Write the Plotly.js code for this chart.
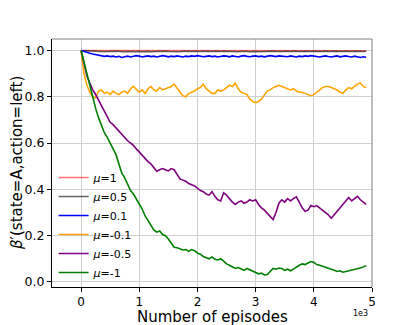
<!DOCTYPE html>
<html>
<head>
<meta charset="utf-8">
<script src="https://cdn.plot.ly/plotly-3.0.1.min.js"></script>
<style>html,body{margin:0;padding:0;background:#fff;}#chart{width:415px;height:325px;}</style>
</head>
<body>
<div id="chart"></div>
<script>
// episodes sampled every 50
const episodes = [
  0,50,100,150,200,250,300,350,400,450,
  500,550,600,650,700,750,800,850,900,950,
  1000,1050,1100,1150,1200,1250,1300,1350,1400,1450,
  1500,1550,1600,1650,1700,1750,1800,1850,1900,1950,
  2000,2050,2100,2150,2200,2250,2300,2350,2400,2450,
  2500,2550,2600,2650,2700,2750,2800,2850,2900,2950,
  3000,3050,3100,3150,3200,3250,3300,3350,3400,3450,
  3500,3550,3600,3650,3700,3750,3800,3850,3900,3950,
  4000,4050,4100,4150,4200,4250,4300,4350,4400,4450,
  4500,4550,4600,4650,4700,4750,4800,4850,4900
];
const labels = ["<i>μ</i>=1","<i>μ</i>=0.5","<i>μ</i>=0.1","<i>μ</i>=-0.1","<i>μ</i>=-0.5","<i>μ</i>=-1"];
const mu1 = [
  1.0,1.0,1.0,0.9995,1.0,0.9995,1.0,1.0,0.9995,1.0,
  1.0,0.9995,1.0,1.0,0.9995,1.0,1.0,0.9995,1.0,1.0,
  0.9995,1.0,1.0,0.9995,1.0,1.0,0.9995,1.0,1.0,0.9995,
  1.0,1.0,0.9995,1.0,1.0,0.9995,1.0,1.0,0.9995,1.0,
  1.0,0.9995,1.0,1.0,0.9995,1.0,1.0,0.9995,1.0,1.0,
  0.9995,1.0,1.0,0.9995,1.0,1.0,0.9995,1.0,1.0,0.9995,
  1.0,1.0,0.9995,1.0,1.0,0.9995,1.0,1.0,0.9995,1.0,
  1.0,0.9995,1.0,1.0,0.9995,1.0,1.0,0.9995,1.0,1.0,
  0.9995,1.0,1.0,0.9995,1.0,1.0,0.9995,1.0,1.0,0.9995,
  1.0,1.0,0.9995,1.0,1.0,0.9995,1.0,1.0,0.9995
];
const mu05 = [
  1.0,0.999,0.998,0.997,0.997,0.996,0.997,0.996,0.995,0.996,
  0.997,0.995,0.996,0.997,0.995,0.996,0.997,0.996,0.995,0.997,
  0.996,0.995,0.997,0.996,0.995,0.996,0.997,0.995,0.996,0.997,
  0.996,0.995,0.997,0.996,0.995,0.997,0.996,0.995,0.996,0.997,
  0.995,0.996,0.997,0.996,0.995,0.996,0.997,0.995,0.996,0.997,
  0.996,0.995,0.997,0.996,0.995,0.996,0.997,0.996,0.995,0.997,
  0.996,0.995,0.996,0.997,0.995,0.996,0.997,0.996,0.995,0.996,
  0.997,0.995,0.996,0.997,0.996,0.995,0.996,0.997,0.995,0.996,
  0.997,0.996,0.995,0.996,0.997,0.995,0.996,0.997,0.996,0.995,
  0.996,0.997,0.995,0.996,0.997,0.996,0.995,0.996,0.997
];
const mu01 = [
  1.0,0.995,0.99,0.988,0.985,0.982,0.98,0.978,0.975,0.977,
  0.974,0.976,0.972,0.975,0.97,0.973,0.976,0.972,0.975,0.978,
  0.976,0.972,0.975,0.977,0.974,0.976,0.972,0.975,0.978,0.976,
  0.973,0.976,0.974,0.977,0.975,0.972,0.976,0.974,0.977,0.975,
  0.978,0.976,0.973,0.975,0.977,0.974,0.976,0.972,0.975,0.977,
  0.976,0.973,0.977,0.975,0.972,0.976,0.978,0.975,0.973,0.976,
  0.977,0.974,0.976,0.973,0.975,0.978,0.976,0.974,0.977,0.975,
  0.976,0.973,0.977,0.975,0.972,0.976,0.974,0.977,0.975,0.978,
  0.976,0.974,0.972,0.975,0.977,0.974,0.972,0.975,0.977,0.973,
  0.975,0.977,0.974,0.972,0.976,0.974,0.970,0.973,0.971
];
const muM01 = [
  1.0,0.90,0.85,0.82,0.80,0.795,0.825,0.83,0.815,0.82,
  0.81,0.825,0.815,0.81,0.82,0.825,0.815,0.835,0.845,0.83,
  0.82,0.83,0.815,0.835,0.845,0.83,0.825,0.84,0.83,0.835,
  0.84,0.845,0.855,0.835,0.82,0.805,0.80,0.815,0.82,0.825,
  0.835,0.84,0.855,0.835,0.825,0.815,0.815,0.83,0.825,0.83,
  0.84,0.85,0.845,0.86,0.835,0.82,0.815,0.81,0.79,0.78,
  0.775,0.78,0.79,0.81,0.825,0.83,0.84,0.845,0.85,0.845,
  0.84,0.835,0.83,0.835,0.825,0.82,0.82,0.815,0.81,0.805,
  0.81,0.82,0.83,0.84,0.845,0.845,0.84,0.835,0.83,0.82,
  0.815,0.83,0.84,0.835,0.845,0.855,0.86,0.845,0.84
];
const muM05 = [
  1.0,0.94,0.89,0.86,0.83,0.81,0.785,0.76,0.74,0.715,
  0.69,0.68,0.665,0.65,0.64,0.625,0.61,0.60,0.59,0.575,
  0.56,0.545,0.535,0.52,0.51,0.495,0.478,0.485,0.49,0.485,
  0.48,0.49,0.485,0.465,0.445,0.44,0.435,0.425,0.42,0.415,
  0.405,0.395,0.39,0.38,0.375,0.39,0.37,0.355,0.35,0.385,
  0.375,0.36,0.345,0.335,0.345,0.35,0.34,0.345,0.355,0.35,
  0.355,0.335,0.32,0.31,0.295,0.28,0.27,0.30,0.34,0.355,
  0.345,0.36,0.35,0.36,0.368,0.345,0.32,0.305,0.31,0.33,
  0.325,0.33,0.32,0.31,0.30,0.29,0.275,0.29,0.31,0.325,
  0.335,0.35,0.365,0.35,0.36,0.37,0.355,0.345,0.335
];
const muM1 = [
  1.0,0.95,0.90,0.85,0.79,0.75,0.71,0.68,0.645,0.625,
  0.60,0.58,0.55,0.51,0.47,0.45,0.42,0.395,0.38,0.36,
  0.335,0.315,0.285,0.265,0.245,0.225,0.215,0.22,0.205,0.20,
  0.185,0.17,0.15,0.148,0.142,0.138,0.14,0.132,0.14,0.135,
  0.125,0.12,0.11,0.105,0.10,0.108,0.098,0.095,0.10,0.09,
  0.078,0.072,0.065,0.058,0.062,0.055,0.05,0.058,0.052,0.045,
  0.04,0.035,0.038,0.03,0.032,0.045,0.058,0.055,0.06,0.058,
  0.05,0.055,0.048,0.055,0.065,0.072,0.078,0.075,0.082,0.088,
  0.085,0.075,0.072,0.068,0.065,0.06,0.055,0.05,0.045,0.048,
  0.042,0.045,0.048,0.05,0.052,0.055,0.06,0.065,0.07
];
const xTickVals = [0,1000,2000,3000,4000,5000];
const xTickText = ["0","1","2","3","4","5"];
const yTickVals = [0,0.2,0.4,0.6,0.8,1.0];
const xTitle = "Number of episodes";
const yTitle = "<i>β</i>′(state=A,action=left)";

const series = [mu1, mu05, mu01, muM01, muM05, muM1];
const colors = ["rgba(255,0,0,0.55)","rgba(0,0,0,0.6)","#0000ff","#ffa500","#800080","#008000"];
const traces = series.map((s,i)=>({
  x: episodes, y: s, type: "scatter", mode: "lines", name: labels[i],
  line: {color: colors[i], width: 1.6}
}));

const layout = {
  width: 415, height: 325,
  margin: {l: 52, r: 43, t: 39, b: 38},
  paper_bgcolor: "#fff", plot_bgcolor: "#fff",
  font: {family: "DejaVu Sans", color: "#000"},
  showlegend: true,
  legend: {x: 0.005, y: 0.50, xanchor: "left", yanchor: "top", bgcolor: "rgba(0,0,0,0)",
           font: {size: 11, family: "DejaVu Sans"}, tracegroupgap: 0, itemwidth: 30},
  xaxis: {
    range: [-500, 5000], tickvals: xTickVals, ticktext: xTickText,
    showgrid: true, gridcolor: "#cfcfcf", gridwidth: 1,
    zeroline: false, showline: true, linecolor: "#000", linewidth: 1,
    ticks: "outside", ticklen: 4, tickcolor: "#000",
    tickfont: {size: 12, family: "DejaVu Sans"}
  },
  yaxis: {
    range: [-0.022, 1.05], tickvals: yTickVals, tickformat: ".1f",
    showgrid: true, gridcolor: "#cfcfcf", gridwidth: 1,
    zeroline: false, showline: true, linecolor: "#000", linewidth: 1,
    ticks: "outside", ticklen: 4, tickcolor: "#000",
    tickfont: {size: 12.5, family: "DejaVu Sans"}
  },
  shapes: [
    {type: "line", xref: "paper", yref: "paper", x0: 0, x1: 1, y0: 1, y1: 1, line: {color: "#808080", width: 1}},
    {type: "line", xref: "paper", yref: "paper", x0: 1, x1: 1, y0: 0, y1: 1, line: {color: "#808080", width: 1}}
  ],
  annotations: [
    {text: xTitle, xref: "paper", yref: "paper", x: 0.5, y: 0, xanchor: "center", yanchor: "top",
     yshift: -19, showarrow: false, font: {size: 15, family: "DejaVu Sans"}},
    {text: yTitle, xref: "paper", yref: "paper", x: 0, y: 0.5, xanchor: "center", yanchor: "middle",
     xshift: -35, textangle: -90, showarrow: false, font: {size: 15, family: "DejaVu Sans"}},
    {text: "1e3", xref: "paper", yref: "paper", x: 1, y: 0, xanchor: "right", yanchor: "top",
     yshift: -20, xshift: -2, showarrow: false, font: {size: 8, family: "DejaVu Sans"}}
  ]
};
Plotly.newPlot("chart", traces, layout, {displayModeBar: false, staticPlot: true});
</script>
</body>
</html>
